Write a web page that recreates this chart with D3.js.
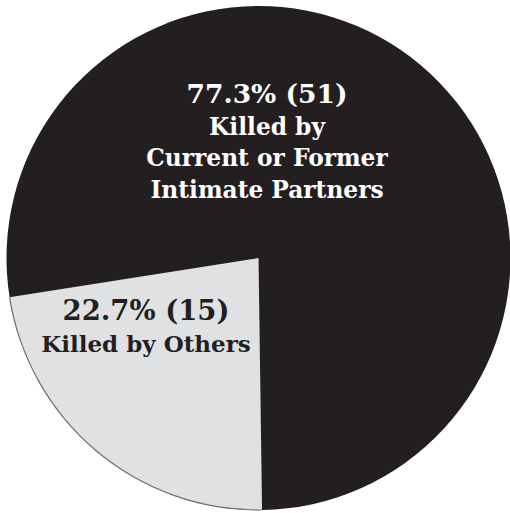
<!DOCTYPE html>
<html>
<head>
<meta charset="utf-8">
<script src="https://cdn.jsdelivr.net/npm/d3@7"></script>
<style>
  html, body { margin: 0; padding: 0; background: #fff; }
  svg { display: block; }
  text { font-family: "DejaVu Serif", serif; font-weight: bold; }
</style>
</head>
<body>
<div id="chart"></div>
<script>
"use strict";

// data
var categories = ["Killed by Others", "Killed by Current or Former Intimate Partners"];
var counts = [15, 51];
var percents = ["22.7%", "77.3%"];
var labelLines = [
	["Killed by Others"],
	["Killed by", "Current or Former", "Intimate Partners"]
];

var width = 510;
var height = 513;
var cx = 258.5, cy = 258, radius = 252;

var colors = ["#e0e1e3", "#231f20"];
var textColors = ["#231f20", "#ffffff"];

var svg = d3.select("#chart").append("svg")
	.attr("width", width)
	.attr("height", height);

var g = svg.append("g")
	.attr("transform", "translate(" + cx + "," + cy + ")");

var start = 179.2 * Math.PI / 180;

var pie = d3.pie()
	.sort(null)
	.startAngle(start)
	.endAngle(start + 2 * Math.PI)
	.value(function(d) { return d; });

var arc = d3.arc()
	.innerRadius(0)
	.outerRadius(radius);

var arcs = pie(counts);

g.selectAll("path.slice")
	.data(arcs)
	.enter()
	.append("path")
	.attr("class", "slice")
	.attr("d", arc)
	.attr("fill", function(d, i) { return colors[i]; });

// thin grey rim on the light slice only
var rim = d3.arc()
	.innerRadius(radius - 0.6)
	.outerRadius(radius + 0.6);
g.append("path")
	.datum(arcs[0])
	.attr("d", rim)
	.attr("fill", "#6d6e70");

// label anchors (first baseline), relative to chart centre
var labelPos = [[146 - cx, 320 - cy], [267 - cx, 103 - cy]];
var bigSize = [27.5, 26.5];
var smallSize = [23, 23.3];
var lineGap = [32, 31.5];

labelPos.forEach(function(p, i) {
	var t = g.append("text")
		.attr("text-anchor", "middle")
		.attr("fill", textColors[i]);
	t.append("tspan")
		.attr("x", p[0])
		.attr("y", p[1])
		.attr("font-size", bigSize[i])
		.text(percents[i] + " (" + counts[i] + ")");
	labelLines[i].forEach(function(line, j) {
		t.append("tspan")
			.attr("x", p[0])
			.attr("y", p[1] + lineGap[i] * (j + 1))
			.attr("font-size", smallSize[i])
			.text(line);
	});
});
</script>
</body>
</html>
